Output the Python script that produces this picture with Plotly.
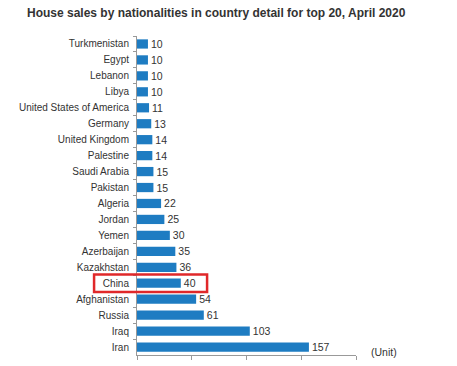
import plotly.graph_objects as go

countries = ["Turkmenistan", "Egypt", "Lebanon", "Libya", "United States of America",
             "Germany", "United Kingdom", "Palestine", "Saudi Arabia", "Pakistan",
             "Algeria", "Jordan", "Yemen", "Azerbaijan", "Kazakhstan", "China",
             "Afghanistan", "Russia", "Iraq", "Iran"]
sales = [10, 10, 10, 10, 11, 13, 14, 14, 15, 15, 22, 25, 30, 35, 36, 40, 54, 61, 103, 157]
highlight = "China"
title = "House sales by nationalities in country detail for top 20, April 2020"
unit_label = "(Unit)"

FONT = "Liberation Sans, Arial, sans-serif"

fig = go.Figure(go.Bar(
    x=sales, y=countries, orientation="h",
    marker=dict(color="#1E7CC2", line=dict(width=0)),
    text=[str(v) for v in sales], textposition="outside", cliponaxis=False,
    constraintext="none",
    textfont=dict(family=FONT, size=10.5, color="#333333"),
    width=0.58,
))

hi = countries.index(highlight)
fig.add_shape(type="rect", xref="paper", yref="y",
              x0=-0.196, x1=0.32, y0=hi - 0.55, y1=hi + 0.55,
              line=dict(color="#E0282A", width=2.5), fillcolor="rgba(0,0,0,0)")

fig.add_annotation(text=unit_label, xref="paper", yref="paper", x=1.06, y=0.01,
                   xanchor="left", yanchor="middle", showarrow=False,
                   font=dict(family=FONT, size=10.5, color="#333333"))

fig.update_layout(
    width=457, height=366,
    margin=dict(l=137, r=101, t=36, b=11),
    paper_bgcolor="white", plot_bgcolor="white",
    showlegend=False,
    title=dict(text="<b>" + title + "</b>", x=27/457, xanchor="left", xref="container",
               y=1 - 13/366, yanchor="middle", yref="container",
               font=dict(family=FONT, size=12, color="#333333")),
    xaxis=dict(range=[0, 200], dtick=50, showticklabels=False, ticks="outside",
               ticklen=4, tickcolor="#999999", showline=True, linecolor="#999999",
               showgrid=False, zeroline=False, automargin=False),
    yaxis=dict(autorange="reversed", ticks="outside", tickson="boundaries", ticklen=3,
               tickcolor="#999999", showline=True, linecolor="#999999", showgrid=False,
               ticklabelstandoff=5, automargin=False,
               tickfont=dict(family=FONT, size=10, color="#333333")),
)

fig.write_html("out.html", config={"displayModeBar": False},
               post_script="document.body.style.margin='0px';")
